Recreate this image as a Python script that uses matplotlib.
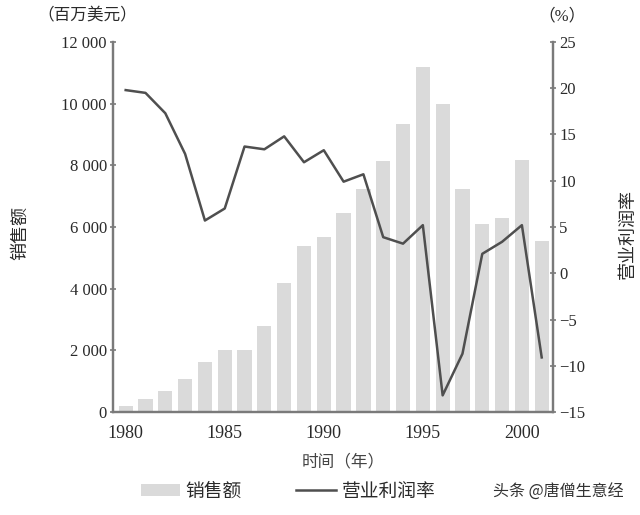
import matplotlib
matplotlib.use("Agg")
import matplotlib.pyplot as plt
from matplotlib.ticker import FuncFormatter
from matplotlib.patches import Patch
from matplotlib.lines import Line2D

plt.rcParams['font.family'] = ['Liberation Serif', 'Noto Sans CJK SC', 'DejaVu Sans']

years = list(range(1980, 2002))
sales = [200, 430, 690, 1080, 1620, 2010, 2010, 2780, 4190, 5400, 5690, 6440,
         7220, 8130, 9330, 11200, 10000, 7240, 6100, 6300, 8160, 5530]
margin = [19.8, 19.5, 17.3, 12.9, 5.7, 7.0, 13.7, 13.4, 14.8, 12.0, 13.3, 9.9,
          10.7, 3.9, 3.2, 5.2, -13.2, -8.7, 2.1, 3.4, 5.2, -9.1]
xticks = [1980, 1985, 1990, 1995, 2000]
left_ticks = [0, 2000, 4000, 6000, 8000, 10000, 12000]
right_ticks = [-15, -10, -5, 0, 5, 10, 15, 20, 25]

spine_col = '#7a7a7a'
txt_col = '#2a2a2a'
bar_col = '#dadada'
line_col = '#4f4f4f'

fig = plt.figure(figsize=(6.4, 5.15), dpi=100)
ax = fig.add_axes([113/640, 1-412/515, (553-113)/640, (412-42)/515])
ax2 = ax.twinx()

ax.bar(years, sales, width=0.72, color=bar_col, zorder=1)
ax2.plot(years, margin, color=line_col, lw=1.8, zorder=3)

ax.set_xlim(1979.36, 2001.57)
ax.set_ylim(0, 12000)
ax2.set_ylim(-15, 25)
ax.set_xticks(xticks)
ax.set_yticks(left_ticks)
ax2.set_yticks(right_ticks)
ax.yaxis.set_major_formatter(FuncFormatter(lambda v, p: f"{int(v):,}".replace(",", " ")))

for a in (ax, ax2):
    a.spines['top'].set_visible(False)
    for s in ('left', 'right', 'bottom'):
        a.spines[s].set_color(spine_col)
        a.spines[s].set_linewidth(1.6)
ax.tick_params(axis='y', direction='inout', length=5, width=1.2, color=spine_col,
               labelsize=12, labelcolor=txt_col, pad=2)
ax2.tick_params(axis='y', direction='inout', length=5, width=1.2, color=spine_col,
                labelsize=12, labelcolor=txt_col, pad=2)
ax.tick_params(axis='x', length=0, labelsize=13, labelcolor=txt_col, pad=9)

fig.text(87/640, 1-16/515, '（百万美元）', ha='center', va='center', fontsize=12, color=txt_col)
fig.text(562/640, 1-16/515, '（%）', ha='center', va='center', fontsize=12, color=txt_col)
fig.text(21/640, 1-233/515, '销售额', ha='center', va='center', rotation=90, fontsize=13, color=txt_col)
fig.text(628/640, 1-234/515, '营业利润率', ha='center', va='center', rotation=90, fontsize=13, color=txt_col)
fig.text(343/640, 1-462/515, '时间（年）', ha='center', va='center', fontsize=12, color='#444444')

handles = [Patch(facecolor=bar_col, edgecolor='none'),
           Line2D([0], [0], color=line_col, lw=1.8)]
fig.legend(handles, ['销售额', '营业利润率'], loc='center', bbox_to_anchor=(288/640, 1-492/515),
           ncol=2, frameon=False, fontsize=13.5, handlelength=2.1, handleheight=0.6,
           columnspacing=2.9, handletextpad=0.3, labelcolor=txt_col)
fig.text(558/640, 1-492/515, '头条 @唐僧生意经', ha='center', va='center', fontsize=11.5,
         color='#333333', family=['Noto Sans CJK SC'])

fig.savefig('out.png', dpi=100)
